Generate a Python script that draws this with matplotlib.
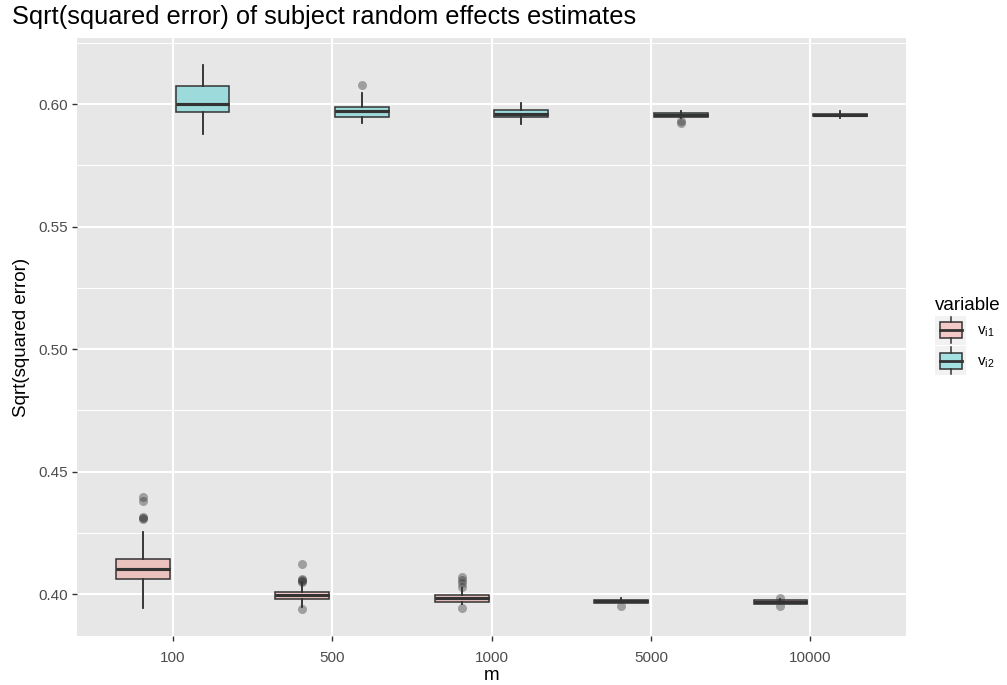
import matplotlib.pyplot as plt
from matplotlib.legend_handler import HandlerBase
from matplotlib.patches import Rectangle
from matplotlib.lines import Line2D

plt.rcParams['font.family'] = ['Liberation Sans', 'DejaVu Sans']
plt.rcParams['mathtext.fontset'] = 'custom'
plt.rcParams['mathtext.rm'] = 'Liberation Sans'
plt.rcParams['mathtext.it'] = 'Liberation Sans:italic'

# number of subjects
m_labels = ['100', '500', '1000', '5000', '10000']

# five-number summaries of sqrt(squared error) per m, first random effect
vi1_lo = [0.3942, 0.3948, 0.3960, 0.3962, 0.3959]
vi1_q1 = [0.4060, 0.3980, 0.3969, 0.3964, 0.3961]
vi1_med = [0.4102, 0.3994, 0.3982, 0.3970, 0.3967]
vi1_q3 = [0.4143, 0.4009, 0.3996, 0.3976, 0.3974]
vi1_hi = [0.4254, 0.4050, 0.4024, 0.3982, 0.3980]
vi1_out = [[0.4397, 0.4380, 0.4316, 0.4310, 0.4306],
           [0.4122, 0.4062, 0.4058, 0.4055, 0.4050, 0.3939],
           [0.4071, 0.4057, 0.4044, 0.4030, 0.3942],
           [0.3952],
           [0.3984, 0.3952]]

# second random effect
vi2_lo = [0.5876, 0.5921, 0.5917, 0.5942, 0.5943]
vi2_q1 = [0.5966, 0.5948, 0.5946, 0.5948, 0.5950]
vi2_med = [0.6001, 0.5971, 0.5959, 0.5955, 0.5955]
vi2_q3 = [0.6075, 0.5989, 0.5976, 0.5962, 0.5961]
vi2_hi = [0.6159, 0.6044, 0.6003, 0.5971, 0.5970]
vi2_out = [[], [0.6079], [], [0.5924, 0.5932], []]

pink = '#F8766D'
teal = '#00BFC4'
dark = '#333333'
panel_bg = '#E7E7E7'
fill_alpha = 0.32


def make_stats(lo, q1, med, q3, hi, out):
    return [dict(whislo=a, q1=b, med=c, q3=d, whishi=e, fliers=f)
            for a, b, c, d, e, f in zip(lo, q1, med, q3, hi, out)]


fig = plt.figure(figsize=(10.07, 6.85), dpi=100)
ax = fig.add_axes([77 / 1007, 1 - 636 / 685, 829 / 1007, 598 / 685])
ax.set_facecolor(panel_bg)
for s in ax.spines.values():
    s.set_visible(False)

pos = list(range(1, len(m_labels) + 1))
groups = [
    (make_stats(vi1_lo, vi1_q1, vi1_med, vi1_q3, vi1_hi, vi1_out), pink, -0.1875),
    (make_stats(vi2_lo, vi2_q1, vi2_med, vi2_q3, vi2_hi, vi2_out), teal, 0.1875),
]
for stats, col, off in groups:
    ax.bxp(stats, positions=[p + off for p in pos], widths=0.3375,
           patch_artist=True, showcaps=False,
           boxprops=dict(facecolor=col, alpha=fill_alpha, edgecolor='none'),
           medianprops=dict(color=dark, linewidth=2.2),
           whiskerprops=dict(color=dark, linewidth=1.1),
           flierprops=dict(marker='o', markersize=6.5, markerfacecolor=dark,
                           markeredgecolor='none', alpha=0.4),
           zorder=3)
    # box outline drawn opaque on top of the translucent fill
    ax.bxp(stats, positions=[p + off for p in pos], widths=0.3375,
           patch_artist=True, showcaps=False, showfliers=False,
           boxprops=dict(facecolor='none', edgecolor=dark, linewidth=1.1),
           medianprops=dict(color=dark, linewidth=2.2),
           whiskerprops=dict(color=dark, linewidth=1.1),
           zorder=4)

ax.set_xlim(0.4, 5.6)
ax.set_ylim(0.38286, 0.62694)
ax.set_xticks(pos)
ax.set_xticklabels(m_labels)
ax.set_yticks([0.40, 0.45, 0.50, 0.55, 0.60])
ax.set_yticklabels(['0.40', '0.45', '0.50', '0.55', '0.60'])
ax.set_yticks([0.425, 0.475, 0.525, 0.575, 0.625], minor=True)
ax.grid(True, which='major', color='white', linewidth=1.5, zorder=0)
ax.grid(True, which='minor', axis='y', color='white', linewidth=0.75, zorder=0)
ax.set_axisbelow(True)
ax.tick_params(which='major', length=3.5, width=1, color=dark,
               labelsize=11, labelcolor='#4D4D4D')
ax.tick_params(axis='x', pad=7)
ax.tick_params(axis='y', pad=3)
ax.tick_params(which='minor', length=0)

ax.set_xlabel('m', fontsize=13.5, labelpad=1.5)
ax.set_ylabel('Sqrt(squared error)', fontsize=13.5, labelpad=6)
fig.text(12 / 1007, 1 - 17 / 685,
         'Sqrt(squared error) of subject random effects estimates',
         fontsize=18.3, ha='left', va='center')


class BoxKey(HandlerBase):
    def __init__(self, color):
        super().__init__()
        self.color = color

    def create_artists(self, legend, orig_handle, xdescent, ydescent,
                       width, height, fontsize, trans):
        x0, y0 = -xdescent, -ydescent
        bg = Rectangle((x0, y0), width, height, facecolor='#F2F2F2',
                       edgecolor='none', transform=trans)
        bx, bw = x0 + 0.15 * width, 0.7 * width
        by, bh = y0 + 0.22 * height, 0.56 * height
        fill = Rectangle((bx, by), bw, bh, facecolor=self.color,
                         alpha=fill_alpha, edgecolor='none', transform=trans)
        box = Rectangle((bx, by), bw, bh, facecolor='none', edgecolor=dark,
                        linewidth=1.1, transform=trans)
        cx = x0 + width / 2
        med = Line2D([bx, bx + bw], [y0 + height / 2] * 2, color=dark,
                     linewidth=2, transform=trans)
        w1 = Line2D([cx, cx], [y0 + 0.04 * height, by], color=dark,
                    linewidth=1.1, transform=trans)
        w2 = Line2D([cx, cx], [by + bh, y0 + 0.96 * height], color=dark,
                    linewidth=1.1, transform=trans)
        return [bg, fill, box, med, w1, w2]


h1 = Rectangle((0, 0), 1, 1)
h2 = Rectangle((0, 0), 1, 1)
leg = fig.legend([h1, h2],
                 [r'$\mathrm{v}_{\mathrm{i1}}$', r'$\mathrm{v}_{\mathrm{i2}}$'],
                 handler_map={h1: BoxKey(pink), h2: BoxKey(teal)},
                 title='variable', title_fontsize=13.5, fontsize=11,
                 loc='upper left', bbox_to_anchor=(935 / 1007, 1 - 297 / 685),
                 frameon=False, borderpad=0, borderaxespad=0,
                 handlelength=2.05, handleheight=2.55, labelspacing=0.1,
                 handletextpad=0.7, alignment='left')

fig.savefig('out.png', dpi=100)
